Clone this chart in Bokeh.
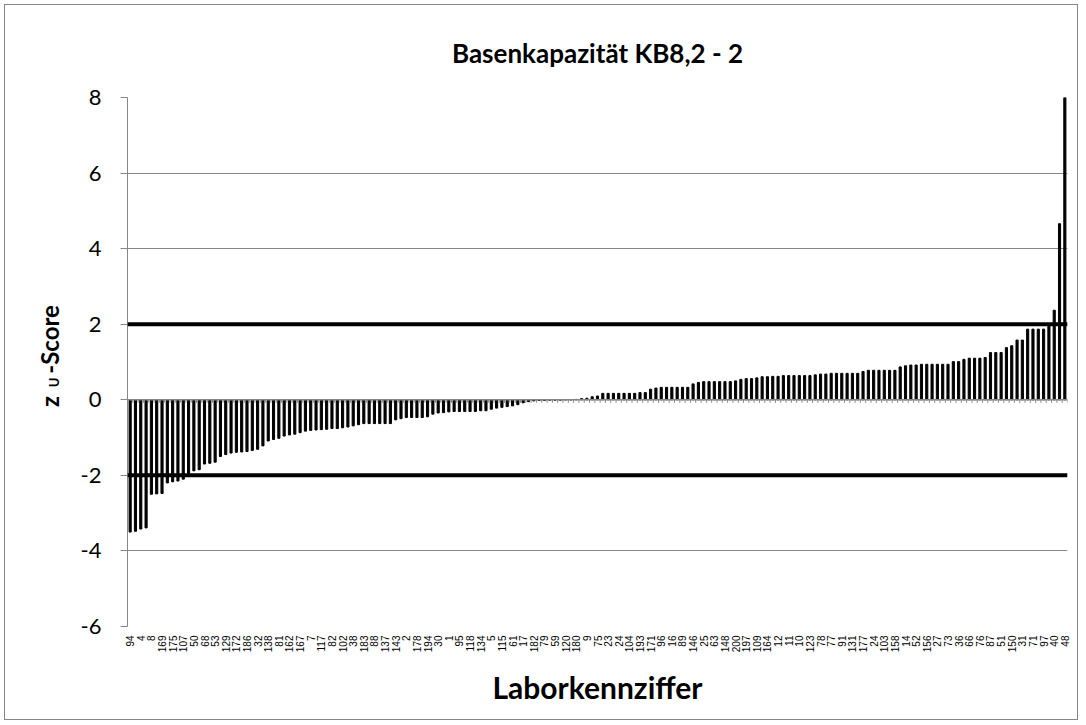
from math import pi
from bokeh.plotting import figure
from bokeh.layouts import row
from bokeh.models import Span, Label, FixedTicker, Range1d
from bokeh.embed import file_html
from bokeh.resources import INLINE

title_text = "Basenkapazität KB8,2 - 2"
x_title = "Laborkennziffer"
y_title_parts = ["z", "U", "-Score"]
y_ticks = [-6, -4, -2, 0, 2, 4, 6, 8]
limit_lines = [-2, 2]

# Labels shown on the x axis (every second laboratory)
lab_labels = ["94", "4", "8", "169", "175", "107", "50", "68", "53", "129",
              "172", "186", "32", "138", "81", "162", "167", "7", "117", "82",
              "102", "38", "183", "88", "137", "143", "2", "178", "194", "30",
              "1", "95", "118", "134", "5", "115", "61", "17", "182", "79",
              "59", "120", "180", "9", "75", "23", "24", "104", "193", "171",
              "96", "16", "89", "146", "25", "63", "148", "200", "197", "109",
              "164", "12", "11", "10", "123", "78", "77", "91", "131", "177",
              "24", "103", "158", "14", "52", "156", "27", "73", "36", "66",
              "76", "87", "51", "150", "31", "71", "97", "40", "48"]

# zU-scores of all laboratories, sorted
zscores = [-3.50, -3.48, -3.42, -3.39, -2.50, -2.49, -2.48, -2.20, -2.17, -2.15,
           -2.10, -1.95, -1.88, -1.85, -1.70, -1.68, -1.65, -1.50, -1.45, -1.41,
           -1.39, -1.38, -1.37, -1.34, -1.31, -1.22, -1.09, -1.05, -1.02, -0.96,
           -0.93, -0.91, -0.87, -0.83, -0.81, -0.80, -0.79, -0.78, -0.76, -0.76,
           -0.74, -0.72, -0.69, -0.66,
           -0.63, -0.63, -0.63, -0.63, -0.63, -0.63, -0.53, -0.50, -0.47, -0.47,
           -0.47, -0.47, -0.45, -0.38, -0.35, -0.34, -0.32, -0.31, -0.31, -0.31,
           -0.31, -0.31, -0.29, -0.29, -0.25, -0.22, -0.20, -0.18, -0.16, -0.13,
           -0.08, -0.05, -0.03,
           -0.02, -0.02, -0.01, -0.01, -0.01, 0.00, 0.00, 0.01,
           0.03, 0.04, 0.08, 0.10, 0.17, 0.17, 0.17, 0.17, 0.17, 0.17,
           0.17, 0.19, 0.19, 0.28, 0.31, 0.33, 0.33, 0.33, 0.33, 0.33,
           0.33, 0.42, 0.46, 0.48, 0.48, 0.48, 0.48, 0.48, 0.48, 0.50,
           0.54, 0.56, 0.56, 0.58, 0.61, 0.61, 0.62, 0.62, 0.64, 0.64,
           0.64, 0.64, 0.64, 0.64, 0.66,
           0.68, 0.68, 0.70, 0.70, 0.70, 0.70, 0.70, 0.70, 0.75, 0.78,
           0.78, 0.78, 0.78, 0.78, 0.78, 0.87, 0.90, 0.92, 0.92, 0.94,
           0.94, 0.94, 0.94, 0.94, 0.94, 1.01, 1.01, 1.07, 1.10, 1.10,
           1.10, 1.12, 1.25, 1.25, 1.25, 1.38, 1.43, 1.58, 1.58, 1.87,
           1.87, 1.87, 1.87, 2.00, 2.37, 4.66, 9.50]

n = len(zscores)
xs = list(range(1, n + 1))
label_pos = [2 * i + 1 for i in range(len(lab_labels))]
GRID = "#868686"
TOP, BOTTOM, HEIGHT = 92, 93, 714
LEFT_W = 66

# ---- narrow left panel carrying the y-axis title (with subscript) ----
lp = figure(width=LEFT_W, height=HEIGHT, x_range=Range1d(0, 1),
            y_range=Range1d(y_ticks[0], y_ticks[-1]),
            x_axis_location=None, y_axis_location=None,
            output_backend="svg", toolbar_location=None,
            min_border_left=0, min_border_right=0,
            min_border_top=TOP, min_border_bottom=BOTTOM)
lp.outline_line_color = None
lp.grid.visible = False
common = dict(x_units="screen", y_units="data", angle=pi / 2, text_align="left",
              text_baseline="alphabetic", text_font="Lato", text_font_style="bold",
              text_color="black")
lp.add_layout(Label(x=44, y=-0.19, text=y_title_parts[0], text_font_size="24px", **common))
lp.add_layout(Label(x=48, y=0.33, text=y_title_parts[1], text_font_size="13px", **common))
lp.add_layout(Label(x=44, y=0.69, text=y_title_parts[2], text_font_size="24px", **common))

# ---- main chart ----
p = figure(width=1072 - LEFT_W, height=HEIGHT,
           x_range=Range1d(0.5, n + 0.5), y_range=Range1d(y_ticks[0], y_ticks[-1]),
           output_backend="svg", toolbar_location=None, title=title_text,
           min_border_left=122 - LEFT_W, min_border_right=10,
           min_border_top=TOP, min_border_bottom=BOTTOM)
p.outline_line_color = None
p.background_fill_color = "white"

p.title.align = "center"
p.title.text_font = "Lato"
p.title.text_font_size = "26px"
p.title.text_font_style = "bold"
p.title.text_color = "black"
p.title.standoff = 57

p.xgrid.visible = False
p.ygrid.ticker = FixedTicker(ticks=y_ticks)
p.ygrid.grid_line_color = GRID
p.ygrid.grid_line_width = 1

yax = p.yaxis[0]
yax.ticker = FixedTicker(ticks=y_ticks)
yax.major_label_overrides = {t: str(t) for t in y_ticks}
yax.axis_line_color = GRID
yax.major_tick_line_color = GRID
yax.major_tick_out = 7
yax.major_tick_in = 0
yax.minor_tick_line_color = None
yax.major_label_text_font = "Lato"
yax.major_label_text_font_size = "22px"
yax.major_label_text_color = "black"
yax.major_label_standoff = 19

xax = p.xaxis[0]
xax.ticker = FixedTicker(ticks=label_pos)
xax.major_label_overrides = {pos: lab for pos, lab in zip(label_pos, lab_labels)}
xax.major_label_orientation = pi / 2
xax.major_label_text_font = "Liberation Sans"
xax.major_label_text_font_size = "10px"
xax.major_label_text_color = "black"
xax.major_label_standoff = 3
xax.axis_line_color = None
xax.major_tick_line_color = None
xax.minor_tick_line_color = None
xax.axis_label = x_title
xax.axis_label_text_font = "Lato"
xax.axis_label_text_font_size = "30px"
xax.axis_label_text_font_style = "bold"
xax.axis_label_text_color = "black"
xax.axis_label_standoff = 14

# bars
p.vbar(x=xs, top=zscores, width=0.4, color="black")

# zero axis with category tick marks
p.add_layout(Span(location=0, dimension="width", line_color=GRID, line_width=1.5))
bounds = [x + 0.5 for x in range(0, n + 1)]
p.segment(x0=bounds, y0=[0] * len(bounds), x1=bounds, y1=[-0.08] * len(bounds),
          line_color=GRID, line_width=1)

# limit lines
for lim in limit_lines:
    p.add_layout(Span(location=lim, dimension="width", line_color="black", line_width=4))

layout = row(lp, p)
layout.styles = {"border": "1px solid #868686", "margin-left": "4px", "margin-top": "4px"}

open("out.html", "w").write(file_html(layout, INLINE))
